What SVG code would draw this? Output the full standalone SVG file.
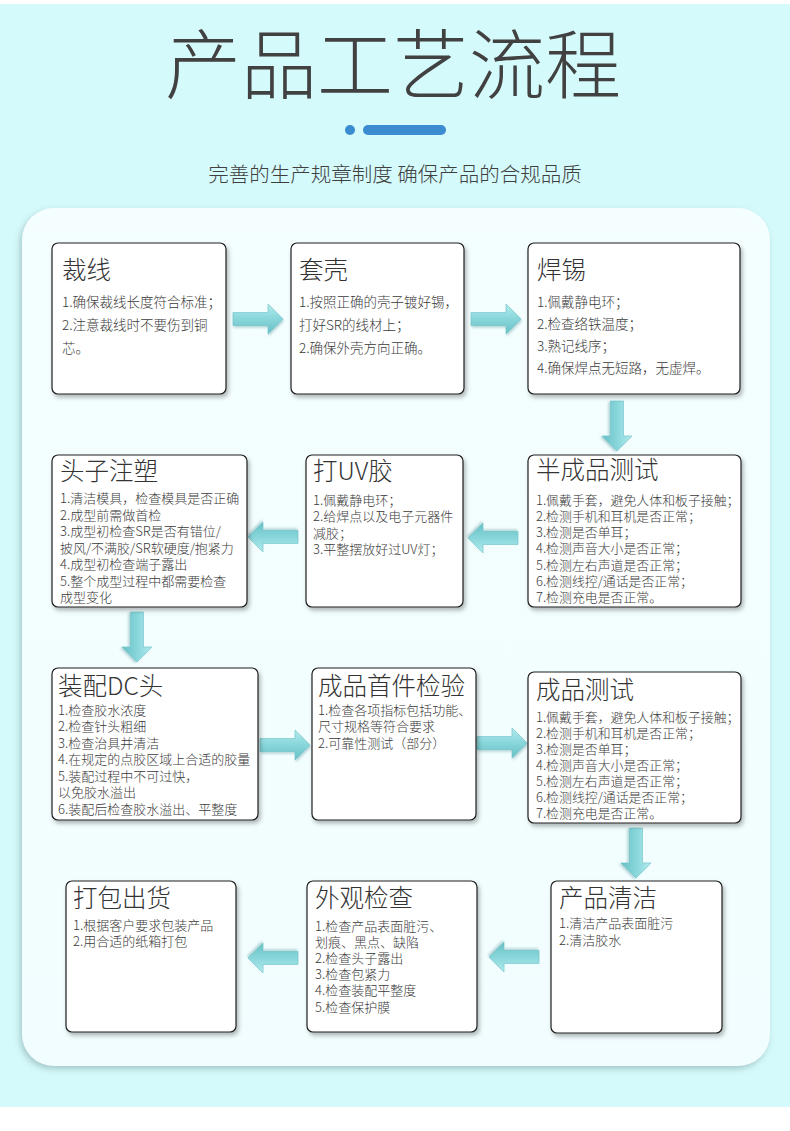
<svg xmlns="http://www.w3.org/2000/svg" width="790" height="1131" viewBox="0 0 790 1131">
<style>
text{font-family:"Noto Sans CJK SC","Noto Sans",sans-serif;}
.h1{font-size:76px;fill:#414141;font-weight:300;}
.sub{font-size:20.5px;fill:#3f3f3f;font-weight:300;}
.box{fill:#ffffff;stroke:#1e1e1e;stroke-width:1.2;filter:url(#bsh);}
.t{font-size:24.5px;fill:#333333;font-weight:300;}
.b{font-size:13.5px;fill:#3a3a3a;font-weight:300;}
.s{font-size:13px;fill:#3a3a3a;font-weight:300;}
.n{font-size:12.9px;fill:#3a3a3a;font-weight:300;}
.arr{fill:url(#ag);stroke:#6dc3c8;stroke-width:0.6;filter:url(#ash);}
</style>
<defs>
<filter id="bsh" x="-10%" y="-10%" width="125%" height="125%">
<feDropShadow dx="2" dy="3" stdDeviation="2" flood-color="#000" flood-opacity="0.28"/>
</filter>
<filter id="psh" x="-5%" y="-5%" width="110%" height="110%">
<feDropShadow dx="-2" dy="3" stdDeviation="3" flood-color="#6a8c8e" flood-opacity="0.45"/>
</filter>
<filter id="ash" x="-20%" y="-20%" width="140%" height="150%">
<feDropShadow dx="1" dy="2" stdDeviation="1.2" flood-color="#4a8f93" flood-opacity="0.35"/>
</filter>
<linearGradient id="ag" x1="0" y1="0" x2="0" y2="1">
<stop offset="0" stop-color="#b2ebee"/>
<stop offset="0.5" stop-color="#88d6da"/>
<stop offset="1" stop-color="#66c1c6"/>
</linearGradient>
<linearGradient id="pg" x1="0" y1="0" x2="0" y2="1">
<stop offset="0" stop-color="#f4feff"/>
<stop offset="1" stop-color="#f1fdfe"/>
</linearGradient>
<path id="ar" d="M0,-6.5 H35 V-15 L50,0 L35,15 V6.5 H0 Z"/>
</defs>
<rect x="0" y="0" width="790" height="1131" fill="#ffffff"/>
<rect x="0" y="4" width="790" height="1103" fill="#d5fafb"/>
<text class="h1" x="393" y="93" text-anchor="middle">产品工艺流程</text>
<circle cx="350" cy="130" r="5" fill="#3b8bd0"/>
<rect x="363" y="125" width="83" height="10" rx="5" fill="#3b8bd0"/>
<text class="sub" x="395" y="182" text-anchor="middle">完善的生产规章制度 确保产品的合规品质</text>
<rect x="22" y="208" width="748" height="858" rx="32" fill="url(#pg)" filter="url(#psh)"/>

<g id="connectors">
<use href="#ar" class="arr" transform="translate(233,319)"/>
<use href="#ar" class="arr" transform="translate(471,319)"/>
<use href="#ar" class="arr" transform="translate(617,401) rotate(90)"/>
<use href="#ar" class="arr" transform="translate(518,538) rotate(180)"/>
<use href="#ar" class="arr" transform="translate(298,537) rotate(180)"/>
<use href="#ar" class="arr" transform="translate(137,612) rotate(90)"/>
<use href="#ar" class="arr" transform="translate(260,745)"/>
<use href="#ar" class="arr" transform="translate(477,743)"/>
<use href="#ar" class="arr" transform="translate(636,828) rotate(90)"/>
<use href="#ar" class="arr" transform="translate(539,957) rotate(180)"/>
<use href="#ar" class="arr" transform="translate(298,958) rotate(180)"/>
</g>

<g id="n1">
<rect class="box" x="52" y="243" width="174" height="151" rx="6"/>
<text class="t" x="62" y="279">裁线</text>
<text class="b" x="62" y="307">1.确保裁线长度符合标准；</text>
<text class="b" x="62" y="330">2.注意裁线时不要伤到铜</text>
<text class="b" x="62" y="353">芯。</text>
</g>
<g id="n2">
<rect class="box" x="291" y="243" width="173" height="151" rx="6"/>
<text class="t" x="299" y="279">套壳</text>
<text class="b" x="299" y="307">1.按照正确的壳子镀好锡，</text>
<text class="b" x="299" y="330">打好SR的线材上；</text>
<text class="b" x="299" y="353">2.确保外壳方向正确。</text>
</g>
<g id="n3">
<rect class="box" x="528" y="243" width="212" height="151" rx="6"/>
<text class="t" x="537" y="279">焊锡</text>
<text class="b" x="537" y="307">1.佩戴静电环；</text>
<text class="b" x="537" y="329">2.检查络铁温度；</text>
<text class="b" x="537" y="351">3.熟记线序；</text>
<text class="b" x="537" y="373">4.确保焊点无短路，无虚焊。</text>
</g>
<g id="n4">
<rect class="box" x="528" y="455" width="213" height="152" rx="6"/>
<text class="t" x="536" y="479">半成品测试</text>
<text class="n" x="536" y="505">1.佩戴手套，避免人体和板子接触；</text>
<text class="n" x="536" y="521">2.检测手机和耳机是否正常；</text>
<text class="n" x="536" y="537">3.检测是否单耳；</text>
<text class="n" x="536" y="553">4.检测声音大小是否正常；</text>
<text class="n" x="536" y="570">5.检测左右声道是否正常；</text>
<text class="n" x="536" y="586">6.检测线控/通话是否正常；</text>
<text class="n" x="536" y="602">7.检测充电是否正常。</text>
</g>
<g id="n5">
<rect class="box" x="306" y="455" width="157" height="152" rx="6"/>
<text class="t" x="313" y="480">打UV胶</text>
<text class="s" x="313" y="505">1.佩戴静电环；</text>
<text class="s" x="313" y="521">2.给焊点以及电子元器件</text>
<text class="s" x="313" y="538">减胶；</text>
<text class="s" x="313" y="554">3.平整摆放好过UV灯；</text>
</g>
<g id="n6">
<rect class="box" x="52" y="455" width="195" height="152" rx="6"/>
<text class="t" x="60" y="480">头子注塑</text>
<text class="s" x="60" y="503">1.清洁模具，检查模具是否正确</text>
<text class="s" x="60" y="520">2.成型前需做首检</text>
<text class="s" x="60" y="536">3.成型初检查SR是否有错位/</text>
<text class="s" x="60" y="553">披风/不满胶/SR软硬度/抱紧力</text>
<text class="s" x="60" y="569">4.成型初检查端子露出</text>
<text class="s" x="60" y="586">5.整个成型过程中都需要检查</text>
<text class="s" x="60" y="602">成型变化</text>
</g>
<g id="n7">
<rect class="box" x="52" y="668" width="206" height="152" rx="6"/>
<text class="t" x="58" y="695">装配DC头</text>
<text class="s" x="58" y="715">1.检查胶水浓度</text>
<text class="s" x="58" y="731">2.检查针头粗细</text>
<text class="s" x="58" y="748">3.检查治具并清洁</text>
<text class="s" x="58" y="764">4.在规定的点胶区域上合适的胶量</text>
<text class="s" x="58" y="781">5.装配过程中不可过快，</text>
<text class="s" x="58" y="797">以免胶水溢出</text>
<text class="s" x="58" y="814">6.装配后检查胶水溢出、平整度</text>
</g>
<g id="n8">
<rect class="box" x="312" y="668" width="164" height="152" rx="6"/>
<text class="t" x="318" y="695">成品首件检验</text>
<text class="s" x="318" y="715">1.检查各项指标包括功能、</text>
<text class="s" x="318" y="731">尺寸规格等符合要求</text>
<text class="s" x="318" y="748">2.可靠性测试（部分）</text>
</g>
<g id="n9">
<rect class="box" x="528" y="672" width="213" height="151" rx="6"/>
<text class="t" x="536" y="699">成品测试</text>
<text class="n" x="536" y="722">1.佩戴手套，避免人体和板子接触；</text>
<text class="n" x="536" y="738">2.检测手机和耳机是否正常；</text>
<text class="n" x="536" y="754">3.检测是否单耳；</text>
<text class="n" x="536" y="770">4.检测声音大小是否正常；</text>
<text class="n" x="536" y="786">5.检测左右声道是否正常；</text>
<text class="n" x="536" y="802">6.检测线控/通话是否正常；</text>
<text class="n" x="536" y="818">7.检测充电是否正常。</text>
</g>
<g id="n10">
<rect class="box" x="551" y="881" width="171" height="152" rx="6"/>
<text class="t" x="559" y="907">产品清洁</text>
<text class="s" x="559" y="928">1.清洁产品表面脏污</text>
<text class="s" x="559" y="945">2.清洁胶水</text>
</g>
<g id="n11">
<rect class="box" x="307" y="881" width="170" height="151" rx="6"/>
<text class="t" x="315" y="907">外观检查</text>
<text class="s" x="315" y="931">1.检查产品表面脏污、</text>
<text class="s" x="315" y="947">划痕、黑点、缺陷</text>
<text class="s" x="315" y="963">2.检查头子露出</text>
<text class="s" x="315" y="979">3.检查包紧力</text>
<text class="s" x="315" y="995">4.检查装配平整度</text>
<text class="s" x="315" y="1012">5.检查保护膜</text>
</g>
<g id="n12">
<rect class="box" x="66" y="881" width="170" height="151" rx="6"/>
<text class="t" x="73" y="907">打包出货</text>
<text class="s" x="73" y="930">1.根据客户要求包装产品</text>
<text class="s" x="73" y="946">2.用合适的纸箱打包</text>
</g>
</svg>
